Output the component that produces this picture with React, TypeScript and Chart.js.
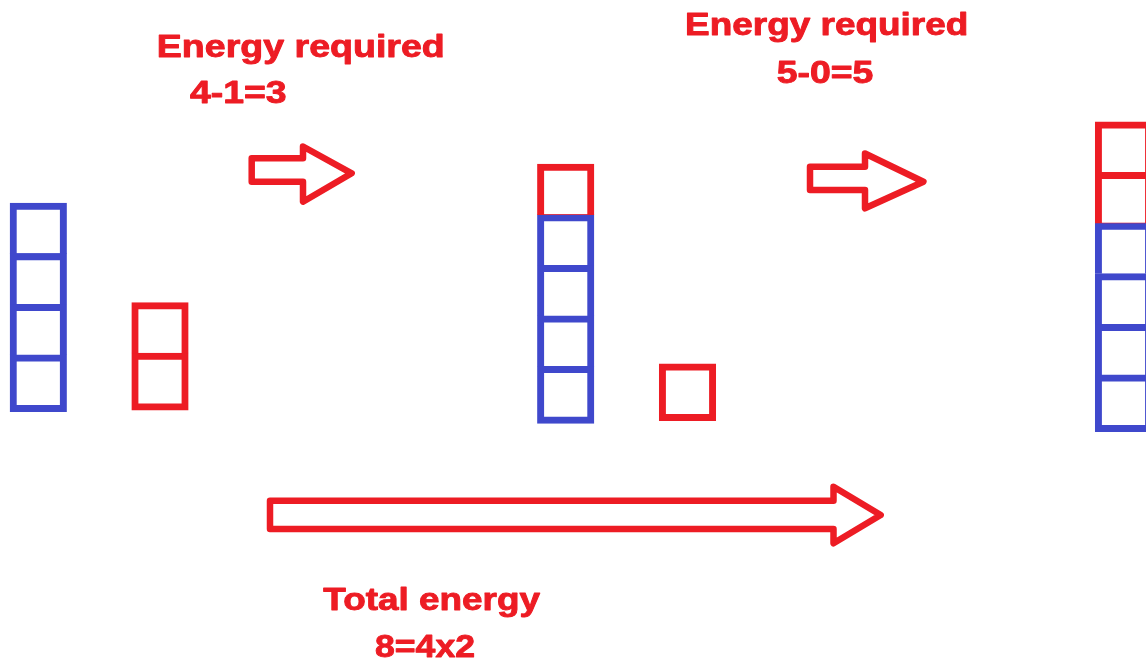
import React, { useEffect, useRef } from "react";
import { Chart, registerables } from "chart.js";

Chart.register(...registerables);

// ---------- data ----------
const stages = ["Start", "After step 1", "After step 2"];
const towerABlue = [4, 4, 4];
const towerARed = [0, 1, 2];
const towerBRed = [2, 1, 0];
const stepLabels = ["Energy required", "Energy required"];
const stepFormulas = ["4-1=3", "5-0=5"];
const totalLabel = "Total energy";
const totalFormula = "8=4x2";

// ---------- layout / style ----------
const W = 1146;
const H = 659;
const CELL_PX = 50.6;
const STROKE = 6.2;
const BLUE = "#3F48CC";
const RED = "#ED1C24";
const towerAX = [38.3, 565.7, 1123.5];
const towerABottom = [411.7, 423.3, 431.7];
const towerBX = [160, 687.5, 1245];
const towerBBottom = [410, 420.7, 430];

const arrows: number[][][] = [
  [[251.7, 158.3], [303, 158.3], [303, 146.5], [351.7, 173.3], [303, 201.7], [303, 181.7], [251.7, 181.7]],
  [[810, 166.7], [865, 166.7], [865, 153.5], [923.4, 181.7], [865, 208.3], [865, 190], [810, 190]],
  [[270, 500.7], [833.5, 500.7], [833.5, 486.7], [880.7, 515], [833.5, 543.3], [833.5, 529], [270, 529]],
];

const texts = [
  { t: stepLabels[0], cx: 300.8, by: 56.7, w: 288 },
  { t: stepFormulas[0], cx: 238.3, by: 103.3, w: 96.7 },
  { t: stepLabels[1], cx: 826.7, by: 35, w: 283.3 },
  { t: stepFormulas[1], cx: 825, by: 83.3, w: 96.7 },
  { t: totalLabel, cx: 431.7, by: 610, w: 216.7 },
  { t: totalFormula, cx: 425, by: 656.7, w: 100 },
];

const sU = STROKE / CELL_PX;
const toUnits = (py: number) => (H - py) / CELL_PX;

type Cell = { x: number; y: [number, number]; color: string; bottom: boolean; stage: string };

function buildCells(): Cell[] {
  const cells: Cell[] = [];
  stages.forEach((stage, s) => {
    const towers = [
      { x: towerAX[s], bottom: towerABottom[s], colors: [...Array(towerABlue[s]).fill(BLUE), ...Array(towerARed[s]).fill(RED)] },
      { x: towerBX[s], bottom: towerBBottom[s], colors: Array(towerBRed[s]).fill(RED) },
    ];
    towers.forEach((tw) => {
      const base = toUnits(tw.bottom);
      tw.colors.forEach((c: string, i: number) => {
        const lo = i === 0 ? base : base + sU + i;
        const hi = base + sU + i + 1;
        cells.push({ x: tw.x, y: [lo, hi], color: c, bottom: i === 0, stage });
      });
    });
  });
  return cells;
}

const decorPlugin = {
  id: "decor",
  afterDatasetsDraw(chart: any) {
    const ctx = chart.ctx;
    const xs = chart.scales.x;
    ctx.save();
    ctx.strokeStyle = RED;
    ctx.lineWidth = 6.5;
    ctx.lineJoin = "round";
    arrows.forEach((pts) => {
      ctx.beginPath();
      pts.forEach(([x, y], i) => {
        const px = xs.getPixelForValue(x);
        if (i === 0) ctx.moveTo(px, y);
        else ctx.lineTo(px, y);
      });
      ctx.closePath();
      ctx.stroke();
    });
    ctx.fillStyle = RED;
    ctx.strokeStyle = RED;
    ctx.lineWidth = 0.9;
    ctx.lineJoin = "round";
    ctx.font = 'bold 31px "Liberation Sans", Arial, sans-serif';
    ctx.textAlign = "center";
    ctx.textBaseline = "alphabetic";
    texts.forEach((tx) => {
      const m = ctx.measureText(tx.t).width;
      const k = tx.w / m;
      ctx.save();
      ctx.translate(xs.getPixelForValue(tx.cx), tx.by);
      ctx.scale(k, 1);
      ctx.fillText(tx.t, 0, 0);
      ctx.strokeText(tx.t, 0, 0);
      ctx.restore();
    });
    ctx.restore();
  },
};

export default function App() {
  const ref = useRef<HTMLCanvasElement | null>(null);
  useEffect(() => {
    document.body.style.margin = "0";
    document.body.style.background = "#ffffff";
    const cells = buildCells();
    const chart = new Chart(ref.current as HTMLCanvasElement, {
      type: "bar",
      data: {
        datasets: [
          {
            label: "blocks",
            data: cells as any,
            backgroundColor: "rgba(0,0,0,0)",
            borderColor: (c: any) => (c.raw ? c.raw.color : BLUE),
            borderWidth: STROKE,
            borderSkipped: (c: any) => (c.raw && c.raw.bottom ? false : "bottom"),
            barThickness: 56.4,
            inflateAmount: 0.4,
            borderRadius: 0,
          } as any,
        ],
      },
      options: {
        animation: false,
        responsive: false,
        layout: { padding: 0 },
        plugins: { legend: { display: false }, title: { display: false }, tooltip: { enabled: false } },
        events: [],
        scales: {
          x: { type: "linear", min: 0, max: W, display: false, offset: false, grid: { display: false } },
          y: { type: "linear", min: 0, max: H / CELL_PX, display: false, grid: { display: false } },
        },
      },
      plugins: [decorPlugin],
    });
    return () => chart.destroy();
  }, []);
  return (
    <div style={{ width: W, height: H, background: "#fff" }}>
      <canvas ref={ref} width={W} height={H} style={{ display: "block", width: W, height: H }} />
    </div>
  );
}
